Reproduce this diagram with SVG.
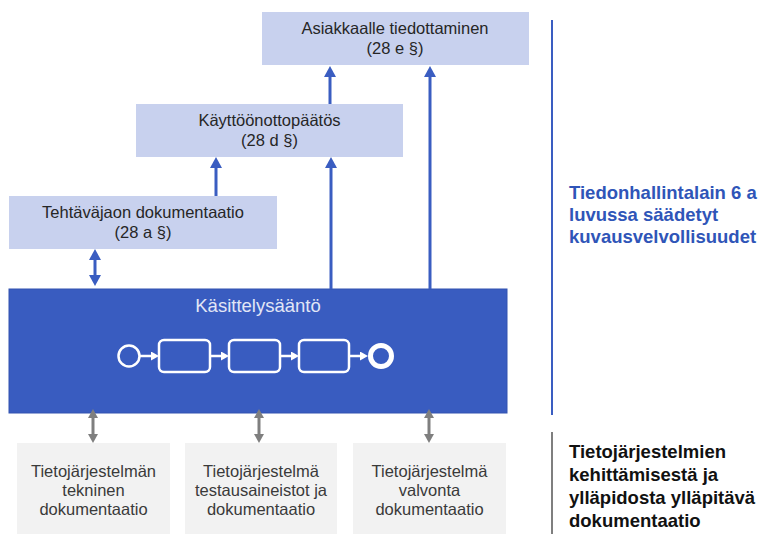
<svg xmlns="http://www.w3.org/2000/svg" width="759" height="534" viewBox="0 0 759 534">
<style>
text{font-family:"Liberation Sans",Arial,sans-serif}
.lb{fill:#C8D1EE}
.gb{fill:#F2F2F2}
.t{font-size:16.5px;fill:#262626;text-anchor:middle}
.g{font-size:16.5px;fill:#3A3A3A;text-anchor:middle}
.ba{stroke:#3A5DC1;stroke-width:3;fill:none}
.ga{stroke:#7F7F7F;stroke-width:3;fill:none}
.wa{stroke:#FFFFFF;stroke-width:2.5;fill:none}
.side{font-size:18.5px;font-weight:bold}
</style>
<defs>
<marker id="bh" markerUnits="userSpaceOnUse" viewBox="0 0 11 12" markerWidth="11" markerHeight="12" refX="1" refY="6" orient="auto-start-reverse"><path d="M0,0 L11,6 L0,12 z" fill="#3A5DC1"/></marker>
<marker id="gh" markerUnits="userSpaceOnUse" viewBox="0 0 9 10" markerWidth="9" markerHeight="10" refX="1" refY="5" orient="auto-start-reverse"><path d="M0,0 L9,5 L0,10 z" fill="#7F7F7F"/></marker>
<marker id="wh" markerUnits="userSpaceOnUse" viewBox="0 0 8 9" markerWidth="8" markerHeight="9" refX="1" refY="4.5" orient="auto"><path d="M0,0 L8,4.5 L0,9 z" fill="#FFFFFF"/></marker>
</defs>

<g id="asiakkaalle">
<rect class="lb" x="262" y="12" width="267" height="53"/>
<text class="t" x="395" y="34">Asiakkaalle tiedottaminen</text>
<text class="t" x="395" y="54">(28 e §)</text>
</g>
<g id="kayttoonotto">
<rect class="lb" x="136" y="104" width="267" height="53"/>
<text class="t" x="269.5" y="126">Käyttöönottopäätös</text>
<text class="t" x="269.5" y="146">(28 d §)</text>
</g>
<g id="tehtavajako">
<rect class="lb" x="9" y="196" width="268" height="53"/>
<text class="t" x="143" y="218">Tehtäväjaon dokumentaatio</text>
<text class="t" x="143" y="238">(28 a §)</text>
</g>

<g id="kasittelysaanto">
<rect x="9" y="289" width="498" height="124" fill="#395CC0" stroke="#3253B0" stroke-width="1"/>
<text x="258" y="312" font-size="18.5" fill="#E2E6F6" text-anchor="middle">Käsittelysääntö</text>
<circle cx="129" cy="356" r="10.5" class="wa"/>
<rect x="159" y="340" width="51" height="32" rx="5" class="wa"/>
<rect x="229" y="340" width="51" height="32" rx="5" class="wa"/>
<rect x="299" y="340" width="50" height="32" rx="5" class="wa"/>
<circle cx="381" cy="356" r="10.5" fill="none" stroke="#FFFFFF" stroke-width="5"/>
<line class="wa" x1="140" y1="356" x2="152" y2="356" marker-end="url(#wh)"/>
<line class="wa" x1="210" y1="356" x2="222" y2="356" marker-end="url(#wh)"/>
<line class="wa" x1="280" y1="356" x2="292" y2="356" marker-end="url(#wh)"/>
<line class="wa" x1="349" y1="356" x2="361" y2="356" marker-end="url(#wh)"/>
</g>

<g id="tekninen">
<rect class="gb" x="17" y="443" width="153" height="91"/>
<text class="g" x="93.5" y="477">Tietojärjestelmän</text>
<text class="g" x="93.5" y="496">tekninen</text>
<text class="g" x="93.5" y="515">dokumentaatio</text>
</g>
<g id="testaus">
<rect class="gb" x="185" y="443" width="152" height="91"/>
<text class="g" x="261" y="477">Tietojärjestelmä</text>
<text class="g" x="261" y="496">testausaineistot ja</text>
<text class="g" x="261" y="515">dokumentaatio</text>
</g>
<g id="valvonta">
<rect class="gb" x="353" y="443" width="153" height="91"/>
<text class="g" x="429.5" y="477">Tietojärjestelmä</text>
<text class="g" x="429.5" y="496">valvonta</text>
<text class="g" x="429.5" y="515">dokumentaatio</text>
</g>

<g id="connectors">
<line class="ba" x1="330" y1="104" x2="330" y2="76" marker-end="url(#bh)"/>
<line class="ba" x1="216" y1="196" x2="216" y2="167" marker-end="url(#bh)"/>
<line class="ba" x1="331" y1="289" x2="331" y2="167" marker-end="url(#bh)"/>
<line class="ba" x1="430" y1="289" x2="430" y2="76" marker-end="url(#bh)"/>
<line class="ba" x1="95" y1="259" x2="95" y2="276" marker-start="url(#bh)" marker-end="url(#bh)"/>
<line class="ga" x1="93" y1="417" x2="93" y2="435" marker-start="url(#gh)" marker-end="url(#gh)"/>
<line class="ga" x1="259" y1="417" x2="259" y2="435" marker-start="url(#gh)" marker-end="url(#gh)"/>
<line class="ga" x1="429" y1="417" x2="429" y2="435" marker-start="url(#gh)" marker-end="url(#gh)"/>
</g>

<g id="kuvausvelvollisuudet">
<line x1="552" y1="20" x2="552" y2="415" stroke="#3A5DC1" stroke-width="2"/>
<text class="side" fill="#2F55B8" x="569" y="199">Tiedonhallintalain 6 a</text>
<text class="side" fill="#2F55B8" x="569" y="221">luvussa säädetyt</text>
<text class="side" fill="#2F55B8" x="569" y="243">kuvausvelvollisuudet</text>
</g>
<g id="yllapito">
<line x1="552" y1="432" x2="552" y2="534" stroke="#7F7F7F" stroke-width="2"/>
<text class="side" fill="#111111" x="569" y="458">Tietojärjestelmien</text>
<text class="side" fill="#111111" x="569" y="481">kehittämisestä ja</text>
<text class="side" fill="#111111" x="569" y="504">ylläpidosta ylläpitävä</text>
<text class="side" fill="#111111" x="569" y="527">dokumentaatio</text>
</g>
</svg>
